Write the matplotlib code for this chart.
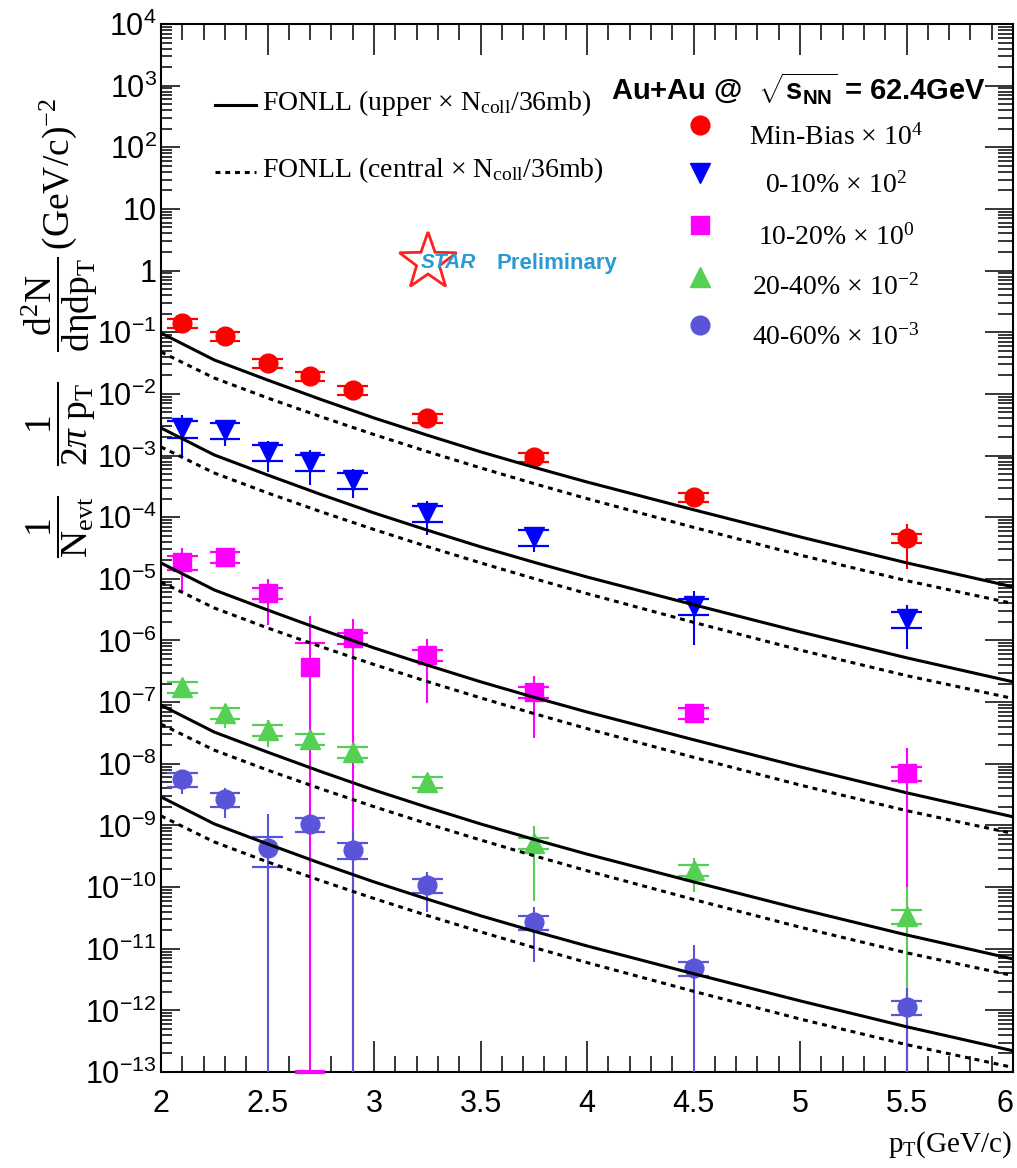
import numpy as np
import matplotlib
matplotlib.use('Agg')
import matplotlib.pyplot as plt
from matplotlib.lines import Line2D
from matplotlib.patches import Polygon
from matplotlib.ticker import FixedLocator, FixedFormatter, MultipleLocator, LogLocator, NullFormatter, FuncFormatter

plt.rcParams['mathtext.fontset'] = 'custom'
plt.rcParams['mathtext.rm'] = 'Liberation Serif'
plt.rcParams['mathtext.it'] = 'Liberation Serif:italic'
plt.rcParams['mathtext.bf'] = 'Liberation Sans:bold'
plt.rcParams['mathtext.sf'] = 'Liberation Sans'
plt.rcParams['font.family'] = ['Liberation Sans', 'DejaVu Sans']

# ---- measured spectra (pT in GeV/c) ----
pt = [2.1, 2.3, 2.5, 2.7, 2.9, 3.25, 3.75, 4.5, 5.5]

mb_y    = [0.141, 0.0869, 0.0317, 0.0195, 0.01156, 4.07e-3, 9.47e-4, 2.13e-4, 4.60e-5]
mb_stat = [0.012, 0.008, 0.003, 0.002, 0.0011, 4e-4, 1e-4, 2.2e-5, 3.16e-5]
mb_sys  = [0.18, 0.18, 0.18, 0.18, 0.18, 0.18, 0.18, 0.18, 0.18]

c010_y    = [2.80e-3, 2.59e-3, 1.14e-3, 7.85e-4, 4.01e-4, 1.17e-4, 4.77e-5, 3.63e-6, 2.23e-6]
c010_stat = [1.8e-3, 1.16e-3, 6.0e-4, 4.5e-4, 2.0e-4, 6.6e-5, 2.0e-5, 2.8e-6, 1.5e-6]
c010_sys  = [0.3, 0.28, 0.28, 0.28, 0.28, 0.28, 0.28, 0.28, 0.28]

c1020_y    = [1.88e-5, 2.26e-5, 5.90e-6, 3.72e-7, 1.10e-6, 5.82e-7, 1.46e-7, 6.67e-8, 7.1e-9]
c1020_stat = [1.28e-5, 3e-6, 4.1e-6, 2.1e-6, 1.15e-6, 4.85e-7, 1.2e-7, 1.0e-8, 1.1e-8]
c1020_sys  = [0.25, 0.2, 0.2, 1.45, 0.2, 0.2, 0.2, 0.2, 0.25]

c2040_y    = [1.76e-7, 6.67e-8, 3.53e-8, 2.52e-8, 1.55e-8, 5.07e-9, 5.19e-10, 1.89e-10, 3.40e-11]
c2040_stat = [2e-8, 2.8e-8, 1.66e-8, 4e-9, 3e-9, 7e-10, 4.6e-10, 1.05e-10, 6.6e-11]
c2040_sys  = [0.2, 0.2, 0.2, 0.2, 0.2, 0.2, 0.2, 0.2, 0.25]

c4060_y    = [5.67e-9, 2.69e-9, 4.31e-10, 1.06e-9, 4.0e-10, 1.08e-10, 2.72e-11, 4.88e-12, 1.13e-12]
c4060_stat = [2.4e-9, 1.37e-9, 1.1e-9, 1.5e-10, 4.4e-10, 6.8e-11, 2.1e-11, 6.6e-12, 1.15e-12]
c4060_sys  = [0.25, 0.25, 0.5, 0.25, 0.3, 0.25, 0.25, 0.25, 0.25]

labels = [r'Min-Bias $\times$ 10$^{4}$', r'0-10% $\times$ 10$^{2}$', r'10-20% $\times$ 10$^{0}$',
          r'20-40% $\times$ 10$^{-2}$', r'40-60% $\times$ 10$^{-3}$']
colors = ['#ff0000', '#0000ff', '#ff00ff', '#55d055', '#5a55d8']
markers = ['o', 'v', 's', '^', 'o']
msizes = [13.5, 14, 12.5, 14, 13.5]

# ---- FONLL charm-decay electron curves (Min-Bias normalisation) ----
fonll_pt = [2.0, 2.25, 2.5, 2.75, 3.0, 3.25, 3.5, 3.75, 4.0, 4.5, 5.0, 5.5, 6.0]
fonll_upper = [9.73e-2, 3.55e-2, 1.68e-2, 8.13e-3, 4.07e-3, 2.14e-3, 1.15e-3, 6.46e-4,
               3.72e-4, 1.32e-4, 4.79e-5, 1.82e-5, 7.41e-6]
fonll_central = [4.78e-2, 1.81e-2, 8.59e-3, 4.27e-3, 2.19e-3, 1.16e-3, 6.31e-4, 3.51e-4,
                 2.00e-4, 6.84e-5, 2.43e-5, 9.33e-6, 3.98e-6]
# relative normalisation (N_coll x scale) of each centrality class
fonll_norm = [1.0, 2.88e-2, 1.86e-4, 9.2e-7, 2.98e-8]

series = [
    (mb_y, mb_stat, mb_sys),
    (c010_y, c010_stat, c010_sys),
    (c1020_y, c1020_stat, c1020_sys),
    (c2040_y, c2040_stat, c2040_sys),
    (c4060_y, c4060_stat, c4060_sys),
]

W, H = 1017, 1168
fig = plt.figure(figsize=(W / 100, H / 100), dpi=100)
ax = fig.add_axes([161 / W, 1 - 1072 / H, (1013 - 161) / W, (1072 - 24) / H])

YMIN, YMAX = 1e-13, 1e4
ax.set_xlim(2, 6)
ax.set_yscale('log')
ax.set_ylim(YMIN, YMAX)

px = np.array(pt)
hw = 0.072
for i, (yv, st, sy) in enumerate(series):
    y = np.array(yv); s = np.array(st); f = np.array(sy)
    z = 3 + i
    lo = y - s
    lo = np.where(lo <= 0, YMIN * 1e-3, lo)
    ax.vlines(px, lo, y + s, color=colors[i], lw=1.5, zorder=z)
    ax.hlines(y * (1 + f), px - hw, px + hw, color=colors[i], lw=1.6, zorder=z)
    slo = y * (1 - f)
    ok = slo > 0
    ax.hlines(slo[ok], px[ok] - hw, px[ok] + hw, color=colors[i], lw=1.6, zorder=z)
    if (~ok).any():
        ax.hlines(np.full((~ok).sum(), YMIN), px[~ok] - hw, px[~ok] + hw,
                  color=colors[i], lw=3, zorder=z, clip_on=False)
    ax.plot(px, y, ls='none', marker=markers[i], ms=msizes[i], color=colors[i],
            mec=colors[i], zorder=z + 0.5)

fp = np.array(fonll_pt)
for n in fonll_norm:
    ax.plot(fp, np.array(fonll_upper) * n, color='black', lw=2.2, zorder=10)
    ax.plot(fp, np.array(fonll_central) * n, color='black', lw=2.2,
            ls=(0, (1.6, 1.6)), zorder=10)

# axes styling
for sp in ax.spines.values():
    sp.set_linewidth(1.5)
ax.xaxis.set_major_locator(MultipleLocator(0.5))
ax.xaxis.set_minor_locator(MultipleLocator(0.1))
ax.xaxis.set_major_formatter(FuncFormatter(lambda v, _: f'{v:g}'))
decades = [10.0 ** k for k in range(-13, 5)]
dec_labels = []
for k in range(-13, 5):
    if k == 0:
        dec_labels.append(r'$\mathsf{1}$')
    elif k == 1:
        dec_labels.append(r'$\mathsf{10}$')
    else:
        dec_labels.append(r'$\mathsf{10^{%d}}$' % k)
ax.yaxis.set_major_locator(FixedLocator(decades))
ax.yaxis.set_major_formatter(FixedFormatter(dec_labels))
ax.yaxis.set_minor_locator(LogLocator(base=10, subs=np.arange(2, 10), numticks=40))
ax.yaxis.set_minor_formatter(NullFormatter())

ax.tick_params(axis='x', which='major', direction='in', top=True, length=22, width=1.1,
               labelsize=22, pad=12)
ax.tick_params(axis='x', which='minor', direction='in', top=True, length=11.5, width=1.1)
ax.tick_params(axis='y', which='major', direction='in', right=False, length=14, width=1.1,
               labelsize=22, pad=3)
ax.tick_params(axis='y', which='minor', direction='in', right=False, length=8, width=1.1)

ax2 = ax.twinx()
ax2.set_yscale('log')
ax2.set_ylim(YMIN, YMAX)
ax2.yaxis.set_major_locator(FixedLocator(decades))
ax2.yaxis.set_minor_locator(LogLocator(base=10, subs=np.arange(2, 10), numticks=40))
ax2.yaxis.set_major_formatter(NullFormatter())
ax2.yaxis.set_minor_formatter(NullFormatter())
ax2.tick_params(axis='y', which='major', direction='in', length=20, width=1.1)
ax2.tick_params(axis='y', which='minor', direction='in', length=11, width=1.1)
for sp in ax2.spines.values():
    sp.set_visible(False)

# keep the last x label inside the canvas
fig.canvas.draw()
xlabs = ax.get_xticklabels()
for lab in xlabs:
    if lab.get_text() == '6':
        lab.set_horizontalalignment('right')
        lab.set_x(6.0)


def fx(x):
    return x / W


def fy(y):
    return 1 - y / H


# axis titles
fig.text(fx(60), fy(328),
         r'$\dfrac{1}{\mathrm{N_{evt}}}\quad\dfrac{1}{2\pi\ \mathrm{p_{T}}}\quad'
         r'\dfrac{\mathrm{d^{2}N}}{\mathrm{d\eta dp_{T}}}\,\mathrm{(GeV/c)^{-2}}$',
         rotation=90, ha='center', va='center', fontsize=27)
fig.text(fx(1012), fy(1145), r'p$_{\mathrm{T}}$(GeV/c)', ha='right', va='center',
         fontsize=21, family='Liberation Serif')

# FONLL legend
fig.add_artist(Line2D([fx(215), fx(256)], [fy(105), fy(105)], color='black', lw=2.2))
fig.add_artist(Line2D([fx(215), fx(256)], [fy(172), fy(172)], color='black', lw=2.2,
                      ls=(0, (1.6, 1.6))))
fig.text(fx(262), fy(103), r'FONLL (upper $\times$ N$_{\mathrm{coll}}$/36mb)',
         ha='left', va='center', fontsize=20, family='Liberation Serif')
fig.text(fx(262), fy(170), r'FONLL (central $\times$ N$_{\mathrm{coll}}$/36mb)',
         ha='left', va='center', fontsize=20, family='Liberation Serif')

# collision system
fig.text(fx(611), fy(88), r'Au+Au @  $\sqrt{\mathbf{s}_{\mathbf{NN}}}$ = 62.4GeV',
         ha='left', va='center', fontsize=21, fontweight='bold')

# centrality legend
leg_marker_y = [125, 173, 225, 277, 325]
leg_text_y = [137, 185, 237, 287, 337]
for i in range(5):
    fig.add_artist(Line2D([fx(700)], [fy(leg_marker_y[i])], ls='none', marker=markers[i],
                          ms=msizes[i], color=colors[i]))
    fig.text(fx(836), fy(leg_text_y[i]), labels[i], ha='center', va='center',
             fontsize=20, family='Liberation Serif')

# STAR Preliminary tag
cx, cy, R = 428, 262, 30
ang = np.pi / 2 + np.arange(10) * np.pi / 5
rad = np.where(np.arange(10) % 2 == 0, R, R * 0.40)
verts = [(fx(cx + r * np.cos(a)), fy(cy - r * np.sin(a))) for r, a in zip(rad, ang)]
fig.add_artist(Polygon(verts, closed=True, fill=False, edgecolor='#ff2020', lw=2.0,
                       transform=fig.transFigure))
fig.text(fx(421), fy(263), 'STAR', ha='left', va='center', fontsize=15, style='italic',
         fontweight='bold', color='#2a9ad4')
fig.text(fx(497), fy(263), 'Preliminary', ha='left', va='center', fontsize=16,
         fontweight='bold', color='#2a9ad4')

fig.savefig('out.png', dpi=100)
